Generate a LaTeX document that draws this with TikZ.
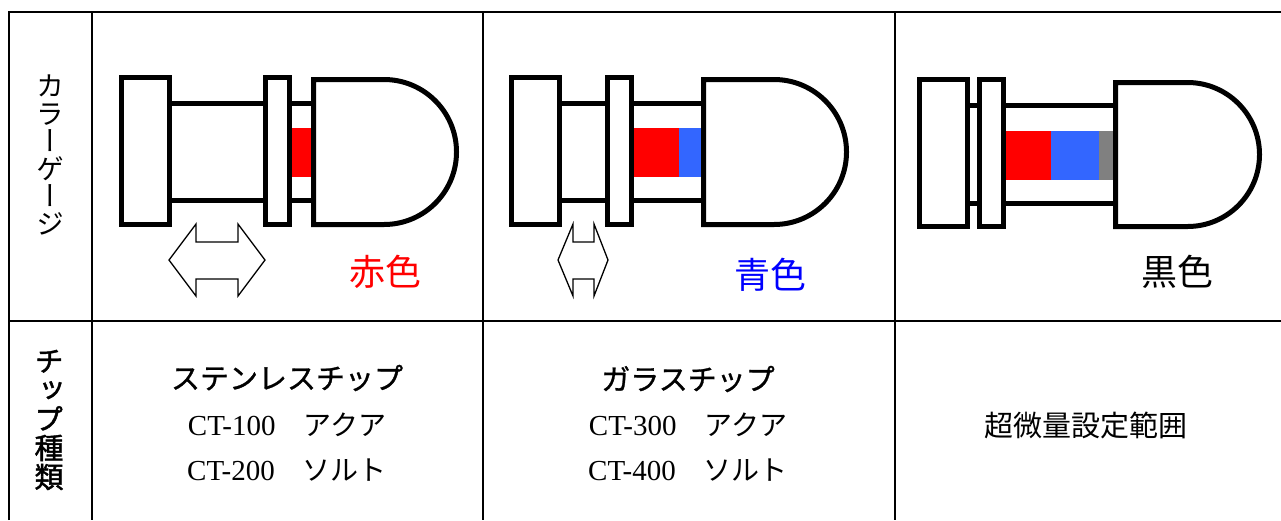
\documentclass[tikz,border=0pt]{standalone}
\usepackage{fontspec}
\usepackage{graphicx}
\setmainfont{Liberation Serif}
\newfontfamily\jp{Noto Sans CJK JP}
\newfontfamily\jpbold[FakeBold=1]{Noto Sans CJK JP}
\newfontfamily\jpv[RawFeature=+vert]{Noto Sans CJK JP}
\newfontfamily\jpvbold[RawFeature=+vert, FakeBold=1.5]{Noto Sans CJK JP}
\definecolor{gaugeblue}{RGB}{51,102,255}
\definecolor{gaugegray}{RGB}{128,128,128}
\definecolor{labelblue}{RGB}{0,0,255}
\tikzset{frame/.style={line width=2pt},
         part/.style={draw, line width=5pt, fill=white},
         slide/.style={draw, line width=1.3pt, fill=white},
         head/.style={font=\jpv\fontsize{28}{27.5}\selectfont, align=center, inner sep=0pt},
         cell/.style={font=\fontsize{29}{30}\selectfont, inner sep=0pt},
         tag/.style={font=\jp\fontsize{36}{36}\selectfont, inner sep=0pt}}

\begin{document}
\begin{tikzpicture}[x=1pt,y=-1pt]
  \useasboundingbox (0,0) rectangle (1281,520);

  % table
  \draw[frame] (9,520) -- (9,12) -- (1281,12);
  \draw[frame] (9,321) -- (1281,321);
  \draw[frame] (92,12) -- (92,520);
  \draw[frame] (483,12) -- (483,520);
  \draw[frame] (895,12) -- (895,520);

  \node[head] (gaugehead) at (50,155) {カ\\ラ\\ー\\ゲ\\ー\\ジ};
  \node[head, font=\jpvbold\fontsize{29}{29}\selectfont] (chiphead) at (49,420) {チ\\ッ\\プ\\種\\類};

  % red gauge
  \draw[part] (169.5,103.5) rectangle (265.5,200.5);
  \draw[part] (121.5,77.5) rectangle (169.5,224.5);
  \draw[part] (265.5,77.5) rectangle (289.5,224.5);
  \draw[part] (289.5,103.5) rectangle (313.5,200.5);
  \fill[red] (292,128) rectangle (311,177);
  \draw[part] (313.5,79.5) -- (384,79.5) arc[start angle=90, end angle=-90, radius=72.5pt]
              -- (313.5,224.5) -- cycle;
  \draw[slide] (169,260) -- (196,224) -- (196,242) -- (238,242) -- (238,224) -- (265,260)
               -- (238,296) -- (238,279) -- (196,279) -- (196,296) -- cycle;
  \node[tag, text=red] (redtag) at (385,272) {赤色};

  % blue gauge
  \draw[part] (559.5,103.5) rectangle (607.5,200.5);
  \draw[part] (511.5,77.5) rectangle (559.5,224.5);
  \draw[part] (607.5,77.5) rectangle (631.5,224.5);
  \draw[part] (631.5,103.5) rectangle (703.5,200.5);
  \fill[red] (634,128) rectangle (679,177);
  \fill[gaugeblue] (679,128) rectangle (701,177);
  \draw[part] (703.5,79.5) -- (774,79.5) arc[start angle=90, end angle=-90, radius=72.5pt]
              -- (703.5,224.5) -- cycle;
  \draw[slide] (558,260) -- (573,224) -- (573,242) -- (594,242) -- (594,224) -- (608,260)
               -- (594,296) -- (594,279) -- (573,279) -- (573,296) -- cycle;
  \node[tag, text=labelblue] (bluetag) at (770,275) {青色};

  % black gauge
  \draw[part] (967.5,105.5) rectangle (979.5,203.5);
  \draw[part] (919.5,79.5) rectangle (967.5,226.5);
  \draw[part] (979.5,79.5) rectangle (1003.5,226.5);
  \draw[part] (1003.5,105.5) rectangle (1115.5,203.5);
  \fill[red] (1006,131) rectangle (1051,180);
  \fill[gaugeblue] (1051,131) rectangle (1099,180);
  \fill[gaugegray] (1099,131) rectangle (1113,180);
  \draw[part] (1115.5,82.5) -- (1187.5,82.5) arc[start angle=90, end angle=-90, radius=72pt]
              -- (1115.5,226.5) -- cycle;
  \node[tag] (blacktag) at (1177,272) {黒色};

  % chip types
  \node[cell, font=\jpbold\fontsize{29}{30}\selectfont] (steel) at (287,378) {ステンレスチップ};
  \node[cell] (ct100) at (287,425) {CT-100{\jp\fontsize{28}{30}\selectfont　アクア}};
  \node[cell] (ct200) at (287,470) {CT-200{\jp\fontsize{28}{30}\selectfont　ソルト}};
  \node[cell, font=\jpbold\fontsize{29}{30}\selectfont] (glass) at (688,379) {ガラスチップ};
  \node[cell] (ct300) at (688,425) {CT-300{\jp\fontsize{28}{30}\selectfont　アクア}};
  \node[cell] (ct400) at (688,470) {CT-400{\jp\fontsize{28}{30}\selectfont　ソルト}};
  \node[cell, font=\jp\fontsize{29}{30}\selectfont] (micro) at (1086,425) {超微量設定範囲};
\end{tikzpicture}
\end{document}
